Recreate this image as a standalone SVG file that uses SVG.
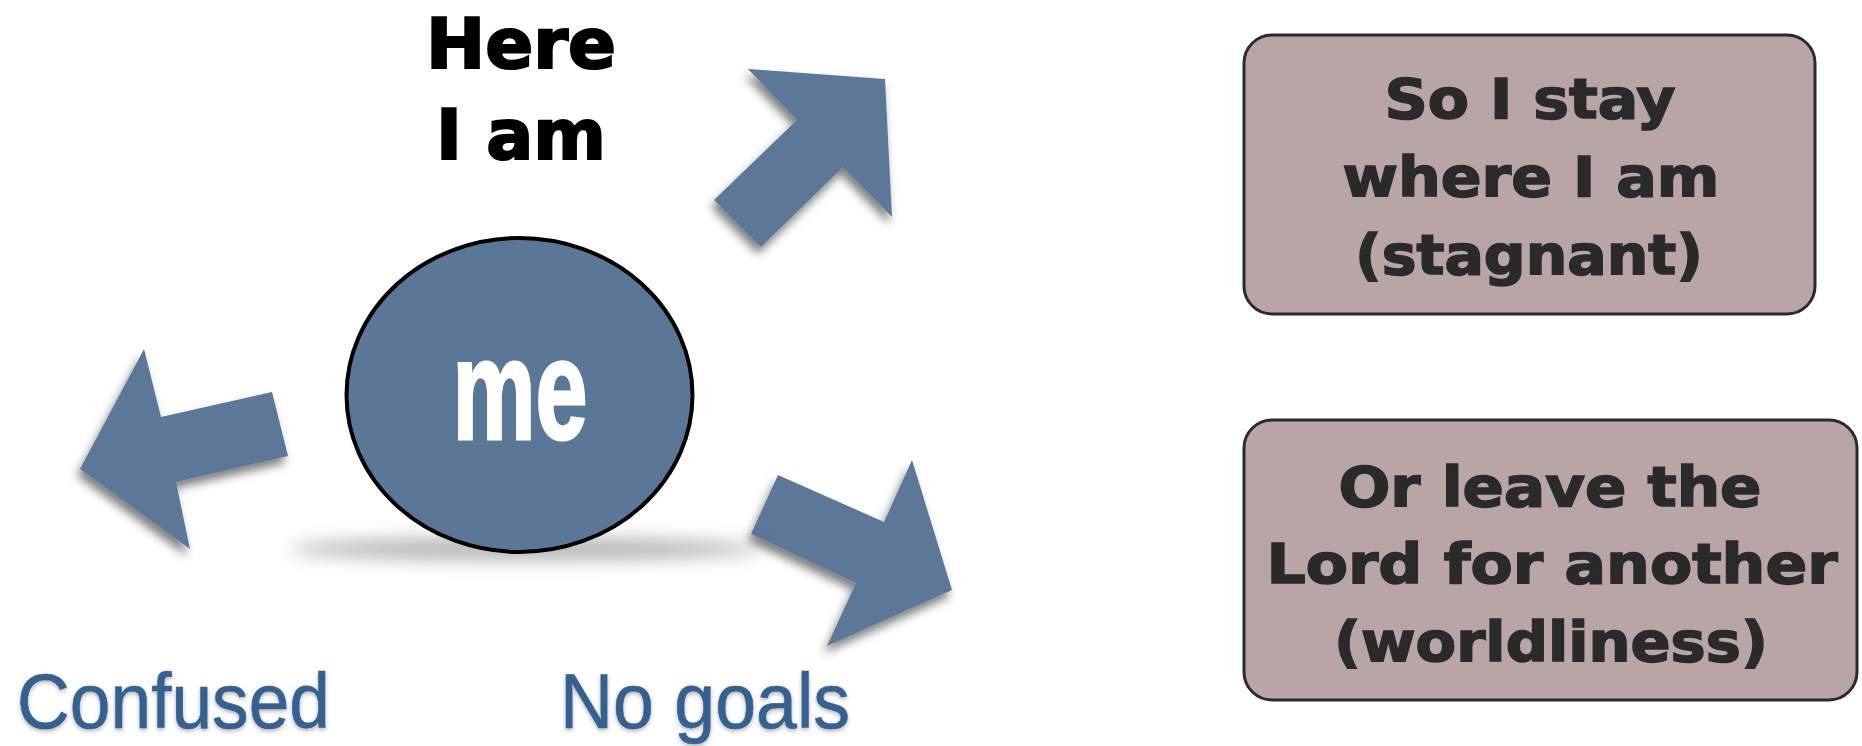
<svg xmlns="http://www.w3.org/2000/svg" width="1862" height="746" viewBox="0 0 1862 746">
  <defs>
    <style>
      .arrow { fill: #5b7798; filter: url(#shadow); }
      .box { fill: #b9a5a6; stroke: #2b2b2b; stroke-width: 3; }
      .boxtxt { font-family: "DejaVu Sans", "Liberation Sans", sans-serif; font-weight: bold; font-size: 55px; fill: #2a2a2a; stroke: #2a2a2a; stroke-width: 1.6; text-anchor: middle; }
      .blue { font-family: "Liberation Sans", Arial, sans-serif; font-size: 77px; fill: #34608f; stroke: #34608f; stroke-width: 0.6; filter: url(#tshadow); }
      .head { font-family: "DejaVu Sans", "Liberation Sans", sans-serif; font-weight: bold; font-size: 70px; fill: #000; stroke: #000; stroke-width: 2.2; text-anchor: middle; }
    </style>
    <filter id="shadow" x="-20%" y="-20%" width="140%" height="150%">
      <feDropShadow dx="-3" dy="7" stdDeviation="5" flood-color="#000" flood-opacity="0.5"/>
    </filter>
    <filter id="tshadow" x="-10%" y="-20%" width="120%" height="150%">
      <feDropShadow dx="0" dy="2" stdDeviation="2" flood-color="#000" flood-opacity="0.3"/>
    </filter>
    <filter id="blur" x="-30%" y="-200%" width="160%" height="500%">
      <feGaussianBlur stdDeviation="9"/>
    </filter>
  </defs>

  <rect width="1862" height="746" fill="#ffffff"/>

  <g id="connectors">
    <polygon id="arrow-up-right" class="arrow" points="885,79 892,217 843,167 761,247 714,200 797,120 748,69"/>
    <polygon id="arrow-left" class="arrow" points="80,469 144,349 161,417 272,392 288,456 176,482 190,549"/>
    <polygon id="arrow-down-right" class="arrow" points="778,475 884,522 912,460 952,590 827,646 856,583 751,534"/>
  </g>

  <g id="node-me">
    <ellipse cx="525" cy="549" rx="235" ry="11" fill="#666" opacity="0.5" filter="url(#blur)"/>
    <ellipse cx="519.5" cy="395" rx="173" ry="157" fill="#5b7798" stroke="#000" stroke-width="4"/>
    <text x="520" y="439" font-family="Liberation Sans, Arial, sans-serif" font-weight="bold" font-size="142" fill="#ffffff" stroke="#ffffff" stroke-width="3" text-anchor="middle" textLength="135" lengthAdjust="spacingAndGlyphs">me</text>
  </g>

  <g id="label-here">
    <text class="head" x="521" y="68" textLength="190" lengthAdjust="spacingAndGlyphs">Here</text>
    <text class="head" x="521" y="159" textLength="170" lengthAdjust="spacingAndGlyphs">I am</text>
  </g>

  <g id="label-confused">
    <text class="blue" x="17" y="728" textLength="313" lengthAdjust="spacingAndGlyphs">Confused</text>
  </g>

  <g id="label-nogoals">
    <text class="blue" x="560" y="728" textLength="290" lengthAdjust="spacingAndGlyphs">No goals</text>
  </g>

  <g id="box-stagnant">
    <rect class="box" x="1244" y="35" width="571" height="279" rx="28" ry="28"/>
    <text class="boxtxt" x="1530" y="118" textLength="291" lengthAdjust="spacingAndGlyphs">So I stay</text>
    <text class="boxtxt" x="1531" y="196" textLength="377" lengthAdjust="spacingAndGlyphs">where I am</text>
    <text class="boxtxt" x="1529" y="274" textLength="348" lengthAdjust="spacingAndGlyphs">(stagnant)</text>
  </g>

  <g id="box-worldliness">
    <rect class="box" x="1244" y="420" width="613" height="280" rx="28" ry="28"/>
    <text class="boxtxt" x="1550" y="506" textLength="423" lengthAdjust="spacingAndGlyphs">Or leave the</text>
    <text class="boxtxt" x="1552" y="583" textLength="571" lengthAdjust="spacingAndGlyphs">Lord for another</text>
    <text class="boxtxt" x="1551" y="661" textLength="434" lengthAdjust="spacingAndGlyphs">(worldliness)</text>
  </g>
</svg>
